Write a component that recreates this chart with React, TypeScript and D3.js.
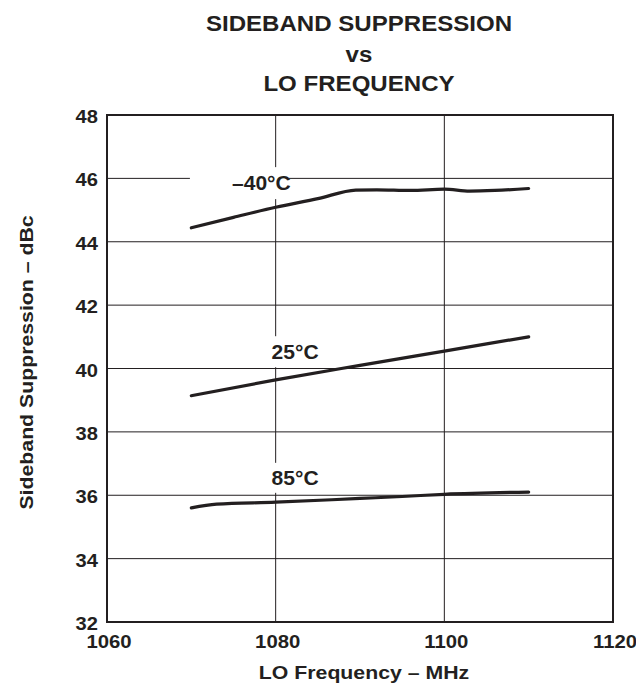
import React from "react";
import * as d3 from "d3";

const xTicks = [1060, 1080, 1100, 1120];
const yTicks = [32, 34, 36, 38, 40, 42, 44, 46, 48];

const freqM40 = [1070, 1075, 1080, 1085, 1089.5, 1092, 1096, 1100, 1103, 1106, 1110];
const valM40 = [44.44, 44.77, 45.09, 45.36, 45.63, 45.64, 45.62, 45.66, 45.6, 45.62, 45.68];

const freq25 = [1070, 1080, 1090, 1100, 1110];
const val25 = [39.14, 39.64, 40.1, 40.55, 41.0];

const freq85 = [1070, 1073, 1080, 1090, 1095, 1100, 1110];
const val85 = [35.6, 35.72, 35.78, 35.9, 35.96, 36.03, 36.1];

const seriesLabels = ["\u201340\u00B0C", "25\u00B0C", "85\u00B0C"];
const titleLines = ["SIDEBAND SUPPRESSION", "vs", "LO FREQUENCY"];

// label layout (data coords for text centre, pixel box sizes)
const labelPos = [
  { f: 1078.3, v: 45.85, bx: 1075.7, bw: 99, bh: 32 },
  { f: 1082.3, v: 40.53, bx: 1082.3, bw: 70, bh: 31 },
  { f: 1082.3, v: 36.55, bx: 1082.3, bw: 70, bh: 30 },
];

const W = 636, H = 685;
const L = 107, R = 613, T = 115, B = 622;
const font = "'Liberation Sans', Arial, sans-serif";
const ink = "#231f20";

function SText(props: { x: number; y: number; sx: number; size: number; anchor?: string; rotate?: number; children: React.ReactNode }) {
  const { x, y, sx, size, anchor = "middle", rotate = 0, children } = props;
  return (
    <text
      transform={`translate(${x},${y}) rotate(${rotate}) scale(${sx},1)`}
      fontFamily={font}
      fontWeight="bold"
      fontSize={size}
      fill={ink}
      textAnchor={anchor}
    >
      {children}
    </text>
  );
}

export default function App() {
  const x = d3.scaleLinear().domain([1060, 1120]).range([L, R]);
  const y = d3.scaleLinear().domain([32, 48]).range([B, T]);
  const line = d3
    .line<[number, number]>()
    .x((d) => x(d[0]))
    .y((d) => y(d[1]))
    .curve(d3.curveMonotoneX);

  const series = [
    d3.zip(freqM40, valM40) as [number, number][],
    d3.zip(freq25, val25) as [number, number][],
    d3.zip(freq85, val85) as [number, number][],
  ];

  const titleY = [31, 62, 91];

  return (
    <svg width={W} height={H} style={{ position: "absolute", left: 0, top: 0 }}>
      <rect x={0} y={0} width={W} height={H} fill="white" />
      {titleLines.map((t, i) => (
        <SText key={"t" + i} x={359} y={titleY[i]} sx={1.12} size={21.5}>
          {t}
        </SText>
      ))}
      {/* grid */}
      <g stroke={ink} strokeWidth={1}>
        {yTicks.slice(1, -1).map((t) => (
          <line key={"h" + t} x1={L} x2={R} y1={y(t)} y2={y(t)} />
        ))}
        {xTicks.slice(1, -1).map((t) => (
          <line key={"v" + t} x1={x(t)} x2={x(t)} y1={T} y2={B} />
        ))}
      </g>
      {/* label backgrounds */}
      {labelPos.map((p, i) => (
        <rect
          key={"bg" + i}
          x={x(p.bx) - p.bw / 2}
          y={y(p.v) - p.bh / 2}
          width={p.bw}
          height={p.bh}
          fill="white"
        />
      ))}
      <rect x={L} y={T} width={R - L} height={B - T} fill="none" stroke={ink} strokeWidth={2} />
      {series.map((s, i) => (
        <path key={"s" + i} d={line(s) || ""} fill="none" stroke={ink} strokeWidth={3.2} strokeLinecap="round" />
      ))}
      {labelPos.map((p, i) => (
        <SText key={"l" + i} x={x(p.f)} y={y(p.v) + 7} sx={1.08} size={19.5}>
          {seriesLabels[i]}
        </SText>
      ))}
      {yTicks.map((t) => (
        <SText key={"yt" + t} x={98} y={y(t) + 8} sx={1.06} size={19} anchor="end">
          {t}
        </SText>
      ))}
      {xTicks.map((t) => (
        <SText key={"xt" + t} x={x(t) + 2} y={648} sx={1.07} size={19}>
          {t}
        </SText>
      ))}
      <SText x={364} y={679} sx={1.15} size={18.5}>
        LO Frequency – MHz
      </SText>
      <SText x={33} y={362.5} sx={1.15} size={18.5} rotate={-90}>
        Sideband Suppression – dBc
      </SText>
    </svg>
  );
}
